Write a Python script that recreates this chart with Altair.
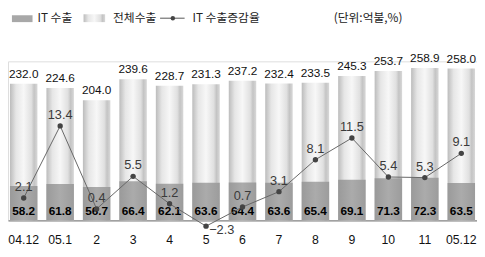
import altair as alt
import pandas as pd

months = ["04.12", "05.1", "2", "3", "4", "5", "6", "7", "8", "9", "10", "11", "05.12"]
total_exports = [232.0, 224.6, 204.0, 239.6, 228.7, 231.3, 237.2, 232.4, 233.5, 245.3, 253.7, 258.9, 258.0]
it_exports = [58.2, 61.8, 56.7, 66.4, 62.1, 63.6, 64.4, 63.6, 65.4, 69.1, 71.3, 72.3, 63.5]
it_growth = [2.1, 13.4, 0.4, 5.5, 1.2, -2.3, 0.7, 3.1, 8.1, 11.5, 5.4, 5.3, 9.1]

legend_labels = ["IT 수출", "전체수출", "IT 수출증감율", "(단위:억불,%)"]

df = pd.DataFrame({"month": months, "total": total_exports, "it": it_exports, "growth": it_growth})

NUM_FONT = "Liberation Sans"
KR_FONT = "Noto Sans CJK KR"

xenc = alt.X("month:N", sort=months,
             scale=alt.Scale(paddingInner=0.247, paddingOuter=0.054),
             axis=alt.Axis(title=None, labelAngle=0, ticks=False, labelPadding=14,
                           labelFont=NUM_FONT, labelFontSize=12.5, labelColor="#111",
                           domainColor="#8a8a8a", domainWidth=1.2))

yb = alt.Scale(domain=[0, 270], nice=False)
yl = alt.Scale(domain=[-1.385, 23.5], nice=False, zero=False)

total_grad = alt.Gradient(gradient="linear", x1=0, x2=1, y1=0, y2=0, stops=[
    alt.GradientStop(offset=0, color="#bcbcbc"),
    alt.GradientStop(offset=0.22, color="#e6e6e6"),
    alt.GradientStop(offset=0.5, color="#f7f7f7"),
    alt.GradientStop(offset=0.78, color="#e0e0e0"),
    alt.GradientStop(offset=0.88, color="#c4c4c4"),
    alt.GradientStop(offset=1, color="#d8d8d8"),
])
it_grad = alt.Gradient(gradient="linear", x1=0, x2=1, y1=0, y2=0, stops=[
    alt.GradientStop(offset=0, color="#9a9a9a"),
    alt.GradientStop(offset=0.5, color="#ababab"),
    alt.GradientStop(offset=1, color="#9c9c9c"),
])

base = alt.Chart(df)

total_bar = base.mark_bar(color=total_grad).encode(
    x=xenc, y=alt.Y("total:Q", scale=yb, axis=None))
it_bar = base.mark_bar(color=it_grad).encode(
    x=xenc, y=alt.Y("it:Q", scale=yb, axis=None))
total_lbl = base.mark_text(font=NUM_FONT, fontSize=12, dy=-10, color="#111").encode(
    x=xenc, y=alt.Y("total:Q", scale=yb, axis=None), text=alt.Text("total:Q", format=".1f"))
it_lbl = base.mark_text(font=NUM_FONT, fontSize=12, dy=-9, color="#000", fontWeight="bold").encode(
    x=xenc, y=alt.YDatum(0, scale=yb, axis=None), text=alt.Text("it:Q", format=".1f"))

bars = alt.layer(total_bar, it_bar, total_lbl, it_lbl)

line = base.mark_line(color="#666", strokeWidth=1).encode(
    x=xenc, y=alt.Y("growth:Q", scale=yl, axis=None))
pts = base.mark_point(filled=True, size=30, color="#444", opacity=1).encode(
    x=xenc, y=alt.Y("growth:Q", scale=yl, axis=None))
g_lbl_pos = base.transform_filter("datum.growth >= 0").mark_text(
    font=NUM_FONT, fontSize=13, dy=-11, color="#3a3a3a").encode(
    x=xenc, y=alt.Y("growth:Q", scale=yl, axis=None), text=alt.Text("growth:Q", format=".1f"))
g_lbl_neg = base.transform_filter("datum.growth < 0").mark_text(
    font=NUM_FONT, fontSize=13, dy=4, dx=16, color="#3a3a3a").encode(
    x=xenc, y=alt.Y("growth:Q", scale=yl, axis=None), text=alt.Text("growth:Q", format=".1f"))

lines = alt.layer(line, pts, g_lbl_pos, g_lbl_neg)

LY = -44
ldf = pd.DataFrame({"t": [0]})
leg = alt.Chart(ldf)
leg_items = [
    leg.mark_rect(color="#a8a8a8").encode(x=alt.value(4), x2=alt.value(25), y=alt.value(LY - 3), y2=alt.value(LY + 4)),
    leg.mark_text(font=KR_FONT, fontSize=12, align="left", baseline="middle", color="#222").encode(
        x=alt.value(30), y=alt.value(LY), text=alt.value(legend_labels[0])),
    leg.mark_rect(color=total_grad).encode(x=alt.value(77), x2=alt.value(99), y=alt.value(LY - 4), y2=alt.value(LY + 4)),
    leg.mark_text(font=KR_FONT, fontSize=12, align="left", baseline="middle", color="#222").encode(
        x=alt.value(107), y=alt.value(LY), text=alt.value(legend_labels[1])),
    leg.mark_rule(color="#555", strokeWidth=1).encode(x=alt.value(155), x2=alt.value(180), y=alt.value(LY)),
    leg.mark_point(filled=True, size=20, color="#444", opacity=1).encode(x=alt.value(168), y=alt.value(LY)),
    leg.mark_text(font=KR_FONT, fontSize=12, align="left", baseline="middle", color="#222").encode(
        x=alt.value(188), y=alt.value(LY), text=alt.value(legend_labels[2])),
    leg.mark_text(font=KR_FONT, fontSize=12, align="left", baseline="middle", color="#222").encode(
        x=alt.value(332), y=alt.value(LY), text=alt.value(legend_labels[3])),
]

chart = alt.layer(bars, lines, *leg_items).resolve_scale(y="independent").properties(
    width=478, height=162,
    autosize=alt.AutoSizeParams(type="none"),
    padding={"left": 0, "top": 52, "right": 0, "bottom": 35},
).configure_view(stroke=None).configure(background="white")

chart.save("out.html", embed_options={"renderer": "svg", "actions": False})
